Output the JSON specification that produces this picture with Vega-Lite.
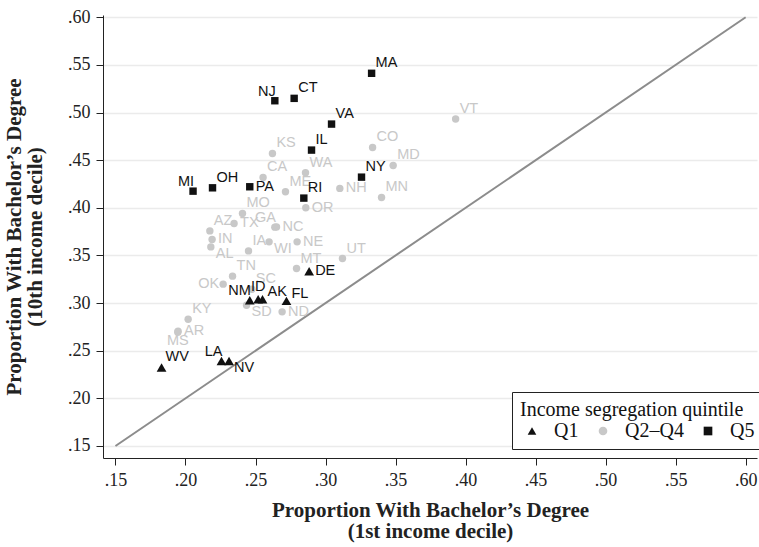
{
  "$schema": "https://vega.github.io/schema/vega-lite/v6.json",
  "width": 654,
  "height": 443,
  "autosize": {"type": "none"},
  "padding": {"left": 103, "top": 15, "right": 2, "bottom": 89},
  "background": "white",
  "config": {
    "view": {"stroke": null},
    "axis": {
      "domainColor": "#222222",
      "domainWidth": 1,
      "tickColor": "#222222",
      "tickSize": 7,
      "tickWidth": 1,
      "labelFont": "Liberation Serif",
      "labelFontSize": 18,
      "labelColor": "#222222",
      "labelPadding": 6,
      "labelFlush": false,
      "labelOverlap": false,
      "titleFont": "Liberation Serif",
      "titleFontSize": 21,
      "titleFontWeight": "bold",
      "titleColor": "#222222",
      "titleLineHeight": 21
    }
  },
  "datasets": {
    "diag": [{"x": 0.15, "y": 0.15}, {"x": 0.6, "y": 0.6}],
    "states": [
      {"state": "VT", "x": 0.3929, "y": 0.4932, "group": "Q2–Q4", "pos": 1},
      {"state": "CO", "x": 0.3336, "y": 0.4634, "group": "Q2–Q4", "pos": 1},
      {"state": "KS", "x": 0.2621, "y": 0.4571, "group": "Q2–Q4", "pos": 1},
      {"state": "MD", "x": 0.3483, "y": 0.4445, "group": "Q2–Q4", "pos": 1},
      {"state": "WA", "x": 0.2857, "y": 0.4368, "group": "Q2–Q4", "pos": 1},
      {"state": "CA", "x": 0.2554, "y": 0.4319, "group": "Q2–Q4", "pos": 1},
      {"state": "ME", "x": 0.2714, "y": 0.4168, "group": "Q2–Q4", "pos": 1},
      {"state": "NH", "x": 0.3102, "y": 0.4204, "group": "Q2–Q4", "pos": 3},
      {"state": "MN", "x": 0.3400, "y": 0.4109, "group": "Q2–Q4", "pos": 1},
      {"state": "OR", "x": 0.2859, "y": 0.4000, "group": "Q2–Q4", "pos": 3},
      {"state": "MO", "x": 0.2407, "y": 0.3941, "group": "Q2–Q4", "pos": 1},
      {"state": "TX", "x": 0.2347, "y": 0.3836, "group": "Q2–Q4", "pos": 3},
      {"state": "AZ", "x": 0.2174, "y": 0.3758, "group": "Q2–Q4", "pos": 1},
      {"state": "NC", "x": 0.2650, "y": 0.3800, "group": "Q2–Q4", "pos": 3},
      {"state": "GA", "x": 0.2638, "y": 0.3797, "group": "Q2–Q4", "pos": 11},
      {"state": "IN", "x": 0.2190, "y": 0.3668, "group": "Q2–Q4", "pos": 3},
      {"state": "AL", "x": 0.2181, "y": 0.3590, "group": "Q2–Q4", "pos": 4},
      {"state": "WI", "x": 0.2597, "y": 0.3643, "group": "Q2–Q4", "pos": 4},
      {"state": "IA", "x": 0.2450, "y": 0.3548, "group": "Q2–Q4", "pos": 1},
      {"state": "NE", "x": 0.2797, "y": 0.3643, "group": "Q2–Q4", "pos": 3},
      {"state": "MT", "x": 0.2793, "y": 0.3363, "group": "Q2–Q4", "pos": 1},
      {"state": "UT", "x": 0.3121, "y": 0.3468, "group": "Q2–Q4", "pos": 1},
      {"state": "TN", "x": 0.2336, "y": 0.3283, "group": "Q2–Q4", "pos": 1},
      {"state": "OK", "x": 0.2269, "y": 0.3199, "group": "Q2–Q4", "pos": 9},
      {"state": "SC", "x": 0.2474, "y": 0.3146, "group": "Q2–Q4", "pos": 1},
      {"state": "SD", "x": 0.2436, "y": 0.2978, "group": "Q2–Q4", "pos": 4},
      {"state": "ND", "x": 0.2690, "y": 0.2908, "group": "Q2–Q4", "pos": 3},
      {"state": "KY", "x": 0.2019, "y": 0.2831, "group": "Q2–Q4", "pos": 1},
      {"state": "AR", "x": 0.1947, "y": 0.2705, "group": "Q2–Q4", "pos": 3},
      {"state": "MS", "x": 0.1945, "y": 0.2694, "group": "Q2–Q4", "pos": 6},
      {"state": "DE", "x": 0.2883, "y": 0.3335, "group": "Q1", "pos": 3},
      {"state": "NM", "x": 0.2459, "y": 0.3030, "group": "Q1", "pos": 11},
      {"state": "ID", "x": 0.2519, "y": 0.3041, "group": "Q1", "pos": 12},
      {"state": "AK", "x": 0.2550, "y": 0.3041, "group": "Q1", "pos": 2},
      {"state": "FL", "x": 0.2721, "y": 0.3023, "group": "Q1", "pos": 2},
      {"state": "WV", "x": 0.1829, "y": 0.2324, "group": "Q1", "pos": 1},
      {"state": "LA", "x": 0.2257, "y": 0.2393, "group": "Q1", "pos": 11},
      {"state": "NV", "x": 0.2311, "y": 0.2393, "group": "Q1", "pos": 4},
      {"state": "MA", "x": 0.3329, "y": 0.5412, "group": "Q5", "pos": 1},
      {"state": "NJ", "x": 0.2638, "y": 0.5124, "group": "Q5", "pos": 11},
      {"state": "CT", "x": 0.2776, "y": 0.5149, "group": "Q5", "pos": 1},
      {"state": "VA", "x": 0.3043, "y": 0.4879, "group": "Q5", "pos": 1},
      {"state": "IL", "x": 0.2900, "y": 0.4606, "group": "Q5", "pos": 1},
      {"state": "NY", "x": 0.3257, "y": 0.4322, "group": "Q5", "pos": 1},
      {"state": "MI", "x": 0.2054, "y": 0.4175, "group": "Q5", "pos": 11},
      {"state": "OH", "x": 0.2193, "y": 0.4210, "group": "Q5", "pos": 1},
      {"state": "PA", "x": 0.2459, "y": 0.4221, "group": "Q5", "pos": 3},
      {"state": "RI", "x": 0.2845, "y": 0.4102, "group": "Q5", "pos": 1}
    ]
  },
  "encoding": {
    "x": {
      "field": "x",
      "type": "quantitative",
      "scale": {"domain": [0.1411, 0.6081], "nice": false, "zero": false},
      "axis": {
        "title": ["Proportion With Bachelor’s Degree", "(1st income decile)"],
        "values": [0.15, 0.2, 0.25, 0.3, 0.35, 0.4, 0.45, 0.5, 0.55, 0.6],
        "labelExpr": "substring(format(datum.value, '.2f'), 1)",
        "grid": false,
        "titlePadding": 10
      }
    },
    "y": {
      "field": "y",
      "type": "quantitative",
      "scale": {"domain": [0.1374, 0.6024], "nice": false, "zero": false},
      "axis": {
        "title": ["Proportion With Bachelor’s Degree", "(10th income decile)"],
        "values": [0.15, 0.2, 0.25, 0.3, 0.35, 0.4, 0.45, 0.5, 0.55, 0.6],
        "labelExpr": "substring(format(datum.value, '.2f'), 1)",
        "grid": true,
        "gridColor": "#ebebeb",
        "gridWidth": 1.5,
        "titlePadding": 22
      }
    }
  },
  "layer": [
    {
      "data": {"name": "diag"},
      "mark": {"type": "line", "color": "#8c8c8c", "strokeWidth": 2},
      "encoding": {}
    },
    {
      "data": {"name": "states"},
      "mark": {"type": "point", "filled": true, "opacity": 1, "strokeWidth": 0},
      "encoding": {
        "shape": {
          "field": "group",
          "type": "nominal",
          "scale": {"domain": ["Q1", "Q2–Q4", "Q5"], "range": ["triangle-up", "circle", "square"]},
          "legend": {
            "title": "Income segregation quintile",
            "orient": "none",
            "legendX": 409,
            "legendY": 377,
            "direction": "horizontal",
            "titleFont": "Liberation Serif",
            "titleFontSize": 20,
            "titleFontWeight": "normal",
            "titleColor": "#111111",
            "titlePadding": 1,
            "titleLimit": 400,
            "labelFont": "Liberation Serif",
            "labelFontSize": 20,
            "labelColor": "#111111",
            "labelLimit": 200,
            "labelOffset": 12,
            "columnPadding": 12,
            "symbolSize": 75,
            "symbolOffset": 2,
            "fillColor": "white",
            "strokeColor": "#222222",
            "padding": 8
          }
        },
        "color": {
          "field": "group",
          "type": "nominal",
          "scale": {"domain": ["Q1", "Q2–Q4", "Q5"], "range": ["#111111", "#c8c8c8", "#111111"]}
        },
        "size": {"condition": {"test": "datum.group === 'Q1'", "value": 95}, "value": 55}
      }
    },
    {
      "data": {"name": "states"},
      "transform": [{"filter": "datum.pos === 1"}],
      "mark": {"type": "text", "font": "Liberation Sans", "fontSize": 14.5, "align": "left", "baseline": "middle", "dx": 4, "dy": -10},
      "encoding": {"text": {"field": "state"}, "color": {"condition": {"test": "datum.group === 'Q2–Q4'", "value": "#c8c8c8"}, "value": "#111111"}}
    },
    {
      "data": {"name": "states"},
      "transform": [{"filter": "datum.pos === 2"}],
      "mark": {"type": "text", "font": "Liberation Sans", "fontSize": 14.5, "align": "left", "baseline": "middle", "dx": 5, "dy": -7},
      "encoding": {"text": {"field": "state"}, "color": {"condition": {"test": "datum.group === 'Q2–Q4'", "value": "#c8c8c8"}, "value": "#111111"}}
    },
    {
      "data": {"name": "states"},
      "transform": [{"filter": "datum.pos === 3"}],
      "mark": {"type": "text", "font": "Liberation Sans", "fontSize": 14.5, "align": "left", "baseline": "middle", "dx": 6, "dy": 0},
      "encoding": {"text": {"field": "state"}, "color": {"condition": {"test": "datum.group === 'Q2–Q4'", "value": "#c8c8c8"}, "value": "#111111"}}
    },
    {
      "data": {"name": "states"},
      "transform": [{"filter": "datum.pos === 4"}],
      "mark": {"type": "text", "font": "Liberation Sans", "fontSize": 14.5, "align": "left", "baseline": "middle", "dx": 5, "dy": 7},
      "encoding": {"text": {"field": "state"}, "color": {"condition": {"test": "datum.group === 'Q2–Q4'", "value": "#c8c8c8"}, "value": "#111111"}}
    },
    {
      "data": {"name": "states"},
      "transform": [{"filter": "datum.pos === 6"}],
      "mark": {"type": "text", "font": "Liberation Sans", "fontSize": 14.5, "align": "center", "baseline": "middle", "dx": 0, "dy": 9},
      "encoding": {"text": {"field": "state"}, "color": {"condition": {"test": "datum.group === 'Q2–Q4'", "value": "#c8c8c8"}, "value": "#111111"}}
    },
    {
      "data": {"name": "states"},
      "transform": [{"filter": "datum.pos === 9"}],
      "mark": {"type": "text", "font": "Liberation Sans", "fontSize": 14.5, "align": "right", "baseline": "middle", "dx": -4, "dy": 0},
      "encoding": {"text": {"field": "state"}, "color": {"condition": {"test": "datum.group === 'Q2–Q4'", "value": "#c8c8c8"}, "value": "#111111"}}
    },
    {
      "data": {"name": "states"},
      "transform": [{"filter": "datum.pos === 11"}],
      "mark": {"type": "text", "font": "Liberation Sans", "fontSize": 14.5, "align": "right", "baseline": "middle", "dx": 1, "dy": -9},
      "encoding": {"text": {"field": "state"}, "color": {"condition": {"test": "datum.group === 'Q2–Q4'", "value": "#c8c8c8"}, "value": "#111111"}}
    },
    {
      "data": {"name": "states"},
      "transform": [{"filter": "datum.pos === 12"}],
      "mark": {"type": "text", "font": "Liberation Sans", "fontSize": 14.5, "align": "center", "baseline": "middle", "dx": 0, "dy": -12},
      "encoding": {"text": {"field": "state"}, "color": {"condition": {"test": "datum.group === 'Q2–Q4'", "value": "#c8c8c8"}, "value": "#111111"}}
    }
  ]
}
